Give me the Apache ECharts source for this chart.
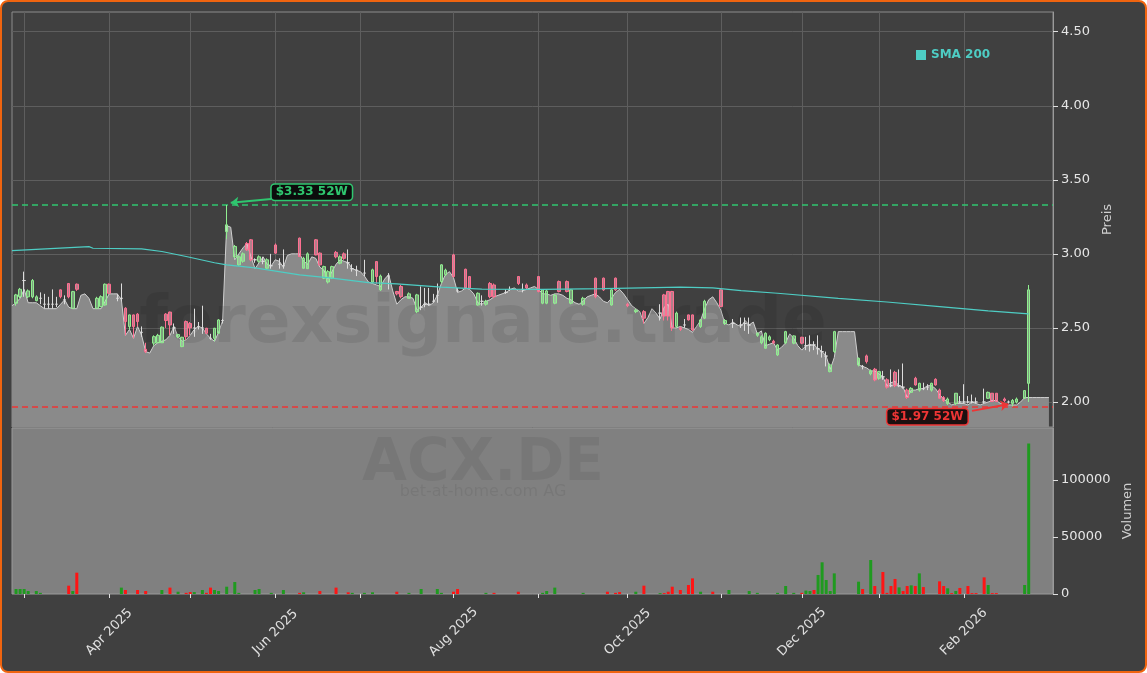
<!DOCTYPE html>
<html><head><meta charset="utf-8">
<script src="https://cdn.jsdelivr.net/npm/echarts@6/dist/echarts.min.js"></script>
<style>
html,body{margin:0;padding:0;background:#ffffff;}
#frame{position:absolute;left:0;top:0;width:1147px;height:673px;box-sizing:border-box;border:2px solid #f0640f;border-radius:8px;background:#404040;}
#chart{position:absolute;left:0;top:0;width:1147px;height:673px;}
</style></head><body>
<div id="frame"></div><div id="chart"></div>
<script>
// ---------------- DATA ----------------
const startDate = '2025-02-26';
const holidays = ['2025-04-18','2025-04-21','2025-05-01','2025-12-24','2025-12-25','2025-12-26','2025-12-31','2026-01-01'];
const categoryCount = 258;          // trading days Feb 26 2025 .. Mar 4 2026
const lastTradeIdx = 250;           // index of last candle (2026-02-24)
const monthNames = ['Jan','Feb','Mar','Apr','May','Jun','Jul','Aug','Sep','Oct','Nov','Dec'];

// filled price line, from index -1 to 255
const areaPrice = [2.65,
2.67,2.70,2.76,2.67,2.67,2.67,2.65,2.63,2.63,2.63,
2.63,2.66,2.69,2.64,2.63,2.63,2.72,2.73,2.70,2.63,
2.63,2.63,2.68,2.73,2.73,2.73,2.69,2.45,2.49,2.43,
2.51,2.45,2.34,2.33,2.38,2.40,2.41,2.42,2.45,2.51,
2.44,2.41,2.42,2.45,2.49,2.51,2.50,2.46,2.43,2.41,
2.47,2.55,3.19,3.18,2.96,3.00,3.04,3.07,2.98,2.90,
2.94,2.98,2.93,2.92,2.96,2.95,2.91,2.99,3.00,3.00,
3.00,2.95,2.93,2.98,2.97,2.91,2.89,2.83,2.88,2.93,
2.96,2.95,2.94,2.90,2.89,2.88,2.85,2.81,2.80,2.79,
2.78,2.83,2.86,2.75,2.66,2.69,2.71,2.71,2.70,2.62,
2.64,2.67,2.65,2.67,2.72,2.80,2.86,2.88,2.84,2.74,
2.75,2.77,2.76,2.73,2.67,2.66,2.68,2.69,2.71,2.72,
2.73,2.74,2.76,2.77,2.75,2.75,2.76,2.77,2.78,2.76,
2.73,2.73,2.72,2.73,2.73,2.72,2.70,2.69,2.67,2.66,
2.68,2.71,2.72,2.73,2.71,2.68,2.67,2.70,2.74,2.76,
2.73,2.69,2.65,2.63,2.61,2.53,2.57,2.63,2.60,2.56,
2.64,2.66,2.50,2.50,2.51,2.50,2.49,2.47,2.51,2.55,
2.63,2.69,2.71,2.67,2.62,2.53,2.52,2.54,2.52,2.51,
2.55,2.52,2.54,2.46,2.48,2.38,2.39,2.40,2.35,2.37,
2.40,2.46,2.43,2.38,2.35,2.38,2.385,2.385,2.36,2.34,
2.31,2.22,2.30,2.475,2.475,2.475,2.475,2.475,2.25,2.24,
2.23,2.21,2.21,2.19,2.17,2.11,2.13,2.14,2.11,2.10,
2.03,2.08,2.08,2.09,2.09,2.11,2.11,2.09,2.05,2.02,
2.00,1.98,1.99,1.99,1.99,1.98,2.00,1.99,1.98,1.99,
2.00,2.01,2.01,1.99,1.99,1.98,1.98,1.98,2.00,2.03,
2.03,2.03,2.03,2.03,2.03,2.03];

// candles: [tradingDayIndex, open, close, low, high]
const candles = [
[0,2.667,2.723,2.65,2.73],[1,2.711,2.761,2.70,2.77],[2,2.82,2.82,2.71,2.88],[3,2.71,2.75,2.70,2.76],
[4,2.71,2.82,2.70,2.83],[5,2.684,2.71,2.68,2.72],[6,2.70,2.70,2.66,2.74],[7,2.66,2.66,2.63,2.73],
[8,2.66,2.66,2.63,2.71],[9,2.66,2.66,2.63,2.76],[10,2.66,2.66,2.64,2.71],[11,2.757,2.711,2.70,2.76],
[12,2.69,2.69,2.66,2.72],[13,2.80,2.71,2.70,2.80],[14,2.633,2.745,2.63,2.75],[15,2.795,2.761,2.75,2.80],
[20,2.633,2.70,2.63,2.71],[21,2.644,2.711,2.64,2.72],[22,2.655,2.795,2.65,2.80],[23,2.795,2.734,2.73,2.80],
[25,2.70,2.70,2.68,2.73],[26,2.70,2.70,2.68,2.80],[27,2.633,2.543,2.45,2.64],[28,2.509,2.588,2.49,2.59],
[29,2.588,2.509,2.43,2.59],[30,2.593,2.543,2.51,2.60],[31,2.47,2.47,2.44,2.51],[32,2.356,2.34,2.33,2.40],
[34,2.397,2.441,2.38,2.45],[35,2.40,2.45,2.40,2.46],[36,2.40,2.505,2.40,2.51],[37,2.593,2.55,2.50,2.60],
[38,2.607,2.52,2.45,2.61],[39,2.50,2.50,2.46,2.53],[40,2.44,2.455,2.43,2.46],[41,2.374,2.437,2.37,2.44],
[42,2.543,2.441,2.42,2.55],[43,2.53,2.50,2.45,2.54],[44,2.50,2.50,2.44,2.63],[45,2.51,2.51,2.49,2.54],
[46,2.50,2.50,2.46,2.65],[47,2.498,2.464,2.46,2.50],[48,2.43,2.43,2.42,2.46],[49,2.43,2.498,2.41,2.50],
[50,2.464,2.554,2.46,2.56],[51,2.55,2.55,2.53,2.56],[52,3.15,3.196,3.10,3.33],[54,2.98,3.05,2.97,3.06],
[55,2.926,2.98,2.92,2.99],[56,2.95,3.00,2.94,3.01],[57,3.07,3.027,3.02,3.08],[58,3.095,2.96,2.95,3.10],
[59,2.96,2.96,2.94,2.97],[60,2.95,2.98,2.94,2.99],[61,2.95,2.95,2.93,2.98],[62,2.903,2.96,2.90,2.97],
[63,2.92,2.92,2.90,3.00],[64,3.06,3.005,3.00,3.07],[65,2.93,2.93,2.90,2.97],[66,2.92,2.92,2.90,3.03],
[70,3.106,2.982,2.98,3.11],[71,2.903,2.97,2.90,2.98],[72,2.90,3.00,2.90,3.01],[74,3.095,2.993,2.99,3.10],
[75,3.005,2.926,2.92,3.01],[76,2.836,2.914,2.83,2.92],[77,2.81,2.88,2.80,2.89],[78,2.836,2.914,2.83,2.92],
[79,3.01,2.98,2.97,3.02],[80,2.937,2.98,2.93,2.99],[81,3.00,2.97,2.96,3.01],[82,2.94,2.94,2.90,3.03],
[83,2.90,2.90,2.88,2.93],[84,2.89,2.89,2.85,2.92],[86,2.87,2.87,2.85,2.96],[88,2.81,2.892,2.80,2.90],
[89,2.948,2.847,2.80,2.95],[90,2.757,2.85,2.75,2.86],[92,2.85,2.85,2.76,2.87],[94,2.746,2.73,2.72,2.75],
[95,2.78,2.711,2.70,2.79],[97,2.70,2.73,2.70,2.74],[99,2.61,2.723,2.60,2.73],[100,2.64,2.64,2.62,2.78],
[101,2.66,2.66,2.64,2.77],[102,2.66,2.66,2.65,2.77],[103,2.68,2.68,2.67,2.73],[104,2.72,2.72,2.67,2.80],
[105,2.813,2.926,2.80,2.93],[106,2.86,2.89,2.85,2.90],[108,2.993,2.847,2.84,3.00],[109,2.75,2.75,2.74,2.77],
[111,2.896,2.768,2.76,2.90],[112,2.847,2.768,2.76,2.85],[114,2.655,2.734,2.65,2.74],[115,2.68,2.68,2.65,2.72],
[116,2.66,2.68,2.65,2.69],[117,2.80,2.711,2.70,2.81],[118,2.79,2.711,2.70,2.80],[121,2.74,2.74,2.73,2.76],
[122,2.76,2.76,2.75,2.78],[124,2.847,2.80,2.79,2.85],[125,2.76,2.76,2.74,2.80],[126,2.79,2.77,2.76,2.80],
[129,2.847,2.746,2.74,2.85],[130,2.667,2.757,2.66,2.76],[131,2.667,2.75,2.66,2.76],[133,2.667,2.72,2.66,2.73],
[134,2.813,2.746,2.74,2.82],[136,2.813,2.746,2.74,2.82],[137,2.667,2.757,2.66,2.76],[140,2.66,2.70,2.65,2.71],
[143,2.836,2.711,2.70,2.84],[145,2.836,2.757,2.75,2.84],[147,2.655,2.757,2.65,2.76],[148,2.836,2.757,2.75,2.84],
[151,2.66,2.65,2.64,2.67],[153,2.61,2.62,2.60,2.63],[155,2.61,2.566,2.53,2.62],[159,2.60,2.60,2.55,2.66],
[160,2.723,2.58,2.55,2.73],[161,2.746,2.58,2.55,2.75],[162,2.746,2.50,2.48,2.75],[163,2.51,2.60,2.50,2.61],
[164,2.50,2.49,2.48,2.51],[165,2.52,2.52,2.50,2.56],[166,2.588,2.554,2.55,2.59],[167,2.588,2.486,2.48,2.59],
[169,2.509,2.554,2.50,2.56],[170,2.566,2.68,2.56,2.69],[174,2.757,2.644,2.64,2.76],[175,2.53,2.55,2.52,2.56],
[177,2.53,2.53,2.50,2.56],[179,2.52,2.52,2.50,2.57],[180,2.53,2.53,2.48,2.57],[181,2.52,2.52,2.46,2.57],
[183,2.45,2.464,2.44,2.47],[184,2.40,2.44,2.39,2.45],[185,2.363,2.464,2.36,2.47],[186,2.42,2.44,2.41,2.45],
[187,2.41,2.40,2.39,2.42],[188,2.318,2.385,2.31,2.39],[190,2.40,2.475,2.39,2.48],[192,2.397,2.446,2.39,2.45],
[194,2.437,2.397,2.39,2.44],[195,2.38,2.38,2.35,2.44],[196,2.385,2.385,2.34,2.45],[197,2.385,2.385,2.35,2.41],
[198,2.36,2.36,2.32,2.45],[199,2.34,2.34,2.30,2.38],[200,2.31,2.31,2.24,2.34],[201,2.205,2.25,2.20,2.26],
[202,2.34,2.475,2.33,2.48],[208,2.25,2.295,2.24,2.30],[209,2.24,2.24,2.22,2.25],[210,2.311,2.273,2.26,2.32],
[211,2.19,2.21,2.18,2.22],[212,2.221,2.149,2.14,2.23],[213,2.16,2.205,2.15,2.21],[214,2.17,2.17,2.15,2.21],
[215,2.15,2.10,2.09,2.16],[216,2.11,2.11,2.10,2.22],[217,2.20,2.11,2.10,2.21],[218,2.11,2.11,2.10,2.22],
[219,2.10,2.10,2.09,2.26],[220,2.08,2.03,2.02,2.09],[221,2.065,2.092,2.06,2.10],[222,2.16,2.115,2.11,2.17],
[223,2.08,2.126,2.07,2.13],[224,2.09,2.09,2.08,2.13],[225,2.10,2.10,2.08,2.12],[226,2.08,2.126,2.07,2.13],
[227,2.153,2.115,2.11,2.16],[228,2.081,2.025,2.02,2.09],[229,2.03,2.01,2.00,2.04],[230,1.99,2.02,1.98,2.03],
[232,1.99,2.059,1.98,2.06],[233,2.00,2.00,1.99,2.04],[234,2.00,2.00,1.99,2.12],[235,2.00,2.00,1.99,2.04],
[236,2.00,2.00,1.99,2.05],[237,2.00,2.00,1.99,2.03],[239,2.00,2.00,1.99,2.09],[240,2.025,2.065,2.02,2.07],
[241,2.059,2.003,2.00,2.06],[242,2.059,2.003,2.00,2.06],[244,2.02,2.01,2.00,2.03],[245,2.00,2.00,1.99,2.01],
[246,1.99,2.01,1.97,2.02],[247,2.00,2.02,1.99,2.03],[249,2.025,2.077,2.02,2.08],[250,2.126,2.757,2.00,2.79]
];

// SMA 200 readings: [tradingDayIndex, value]
const smaPoints = [[-1,3.022],[18,3.049],[19,3.038],[31,3.034],[36,3.016],[42,2.982],[49,2.94],[52,2.926],
[59,2.905],[70,2.858],[78,2.836],[87,2.806],[94,2.797],[105,2.775],[115,2.762],[130,2.760],[145,2.765],
[164,2.775],[172,2.770],[179,2.752],[188,2.734],[203,2.70],[215,2.675],[228,2.644],[240,2.615],[250,2.595]];

// volume: [tradingDayIndex, shares]
const volumeUp = [[0,4400],[1,4400],[2,4400],[3,2600],[5,2600],[6,1000],[14,2600],[26,5600],[36,3500],[40,2000],
[44,1700],[46,3500],[49,3500],[50,2600],[52,6400],[54,10500],[55,1000],[59,3500],[60,4400],[63,1000],[66,3500],
[71,1500],[83,1000],[86,1000],[88,1500],[97,1000],[100,4400],[104,4400],[105,1000],[116,1000],[130,1000],
[131,2600],[133,5600],[140,1000],[153,2000],[159,800],[169,2000],[176,3500],[181,2600],[183,1000],[188,1000],
[190,7000],[192,1000],[195,3000],[196,2600],[198,16700],[199,27800],[200,12300],[201,2600],[202,18100],
[208,10800],[211,29800],[218,5800],[221,7600],[223,18100],[230,5000],[232,2600],[240,7900],[249,7900],[250,132000]];
const volumeDown = [[13,7300],[15,18700],[27,3500],[30,3500],[32,2600],[38,5600],[42,1000],[43,1700],[47,1000],
[48,5600],[70,1000],[75,2600],[79,5600],[82,1500],[94,2000],[108,2000],[109,4400],[118,1000],[124,2000],[146,2000],
[148,1000],[149,1700],[155,7300],[160,800],[161,2000],[162,6400],[164,3500],[166,7900],[167,13700],[172,2000],
[194,1000],[197,3500],[209,4400],[212,7000],[214,19300],[215,1000],[216,7000],[217,13200],[219,2600],[220,7000],
[222,7000],[224,6100],[228,11100],[229,7000],[231,800],[233,5300],[235,7000],[236,800],[237,800],[239,14600],
[241,800],[242,800]];

const high52 = 3.33, high52Idx = 53;
const low52 = 1.97, low52Idx = 245;
const priceTicks = [2.0, 2.5, 3.0, 3.5, 4.0, 4.5];
const volumeTicks = [0, 50000, 100000];
const priceMin = 1.8311, priceMax = 4.633, volumeMax = 145600;

// ---------------- BUILD ----------------
function tradingDays(start, count, skip) {
  const out = [];
  const d = new Date(start + 'T00:00:00Z');
  while (out.length < count) {
    const wd = d.getUTCDay();
    const s = d.toISOString().slice(0, 10);
    if (wd !== 0 && wd !== 6 && skip.indexOf(s) < 0) out.push(s);
    d.setUTCDate(d.getUTCDate() + 1);
  }
  return out;
}
const cats = tradingDays(startDate, categoryCount, holidays);
const K = i => i + 1; // trading-day index -> category position
const monthStarts = new Set();
for (let k = 1; k <= K(lastTradeIdx); k++) {
  if (cats[k].slice(0, 7) !== cats[k - 1].slice(0, 7)) monthStarts.add(k);
}
const isMonthStart = (idx) => monthStarts.has(idx);
const isLabelMonth = (idx) => monthStarts.has(idx) && (parseInt(cats[idx].slice(5, 7), 10) % 2 === 0);

const candleData = cats.map(() => ['-', '-', '-', '-']);
candles.forEach(r => { candleData[K(r[0])] = [r[1], r[2], r[3], r[4]]; });
const smaData = cats.map(() => null);
smaPoints.forEach(p => { smaData[K(p[0])] = p[1]; });
const areaData = cats.map((c, k) => (k < areaPrice.length ? areaPrice[k] : null));
const volUpData = cats.map(() => '-');
volumeUp.forEach(p => { volUpData[K(p[0])] = p[1]; });
const volDownData = cats.map(() => '-');
volumeDown.forEach(p => { volDownData[K(p[0])] = p[1]; });

const FONT = 'DejaVu Sans';
const GREEN = '#2fc66f', RED = '#ee3535';

const chart = echarts.init(document.getElementById('chart'), null, { renderer: 'canvas' });
chart.setOption({
  animation: false,
  backgroundColor: 'transparent',
  textStyle: { fontFamily: FONT },
  legend: {
    data: ['SMA 200'], left: 911, top: 44, icon: 'rect', itemWidth: 10, itemHeight: 10, itemGap: 5,
    textStyle: { color: '#4ecdc4', fontWeight: 'bold', fontSize: 12, fontFamily: FONT }
  },
  grid: [
    { left: 12, top: 12, width: 1041, height: 415, show: true, backgroundColor: 'transparent', borderColor: '#8c8c8c', borderWidth: 1 },
    { left: 12, top: 428, width: 1041, height: 166, show: true, backgroundColor: '#808080', borderColor: '#9a9a9a', borderWidth: 1 }
  ],
  xAxis: [
    { type: 'category', gridIndex: 0, data: cats, boundaryGap: false,
      axisLine: { show: false }, axisTick: { show: false }, axisLabel: { show: false },
      splitLine: { show: true, interval: isMonthStart, lineStyle: { color: '#5e5e5e', width: 1 } } },
    { type: 'category', gridIndex: 1, data: cats, boundaryGap: false,
      axisLine: { show: false },
      axisTick: { show: true, interval: isMonthStart, length: 4, lineStyle: { color: '#e0e0e0' } },
      axisLabel: { show: true, interval: isLabelMonth, rotate: 45, align: 'center', verticalAlign: 'middle', margin: 38,
        color: '#e0e0e0', fontSize: 13, fontFamily: FONT,
        formatter: v => monthNames[parseInt(v.slice(5, 7), 10) - 1] + ' ' + v.slice(0, 4) },
      splitLine: { show: false } }
  ],
  yAxis: [
    { type: 'value', gridIndex: 0, position: 'right', min: priceMin, max: priceMax, scale: true,
      axisLine: { show: true, lineStyle: { color: '#9a9a9a' } },
      axisTick: { show: true, length: 5, customValues: priceTicks, lineStyle: { color: '#e0e0e0' } },
      axisLabel: { customValues: priceTicks, color: '#e6e6e6', fontSize: 13, margin: 8, formatter: v => v.toFixed(2) },
      splitLine: { show: true, lineStyle: { color: '#5e5e5e', width: 1 } },
      name: 'Preis', nameLocation: 'middle', nameRotate: 90, nameGap: 47,
      nameTextStyle: { color: '#d0d0d0', fontSize: 13, fontFamily: FONT } },
    { type: 'value', gridIndex: 1, position: 'right', min: 0, max: volumeMax,
      axisLine: { show: true, lineStyle: { color: '#9a9a9a' } },
      axisTick: { show: true, length: 5, customValues: volumeTicks, lineStyle: { color: '#e0e0e0' } },
      axisLabel: { customValues: volumeTicks, color: '#e6e6e6', fontSize: 13, margin: 8, formatter: v => String(v) },
      splitLine: { show: false },
      name: 'Volumen', nameLocation: 'middle', nameRotate: 90, nameGap: 68,
      nameTextStyle: { color: '#d0d0d0', fontSize: 13, fontFamily: FONT } }
  ],
  graphic: [
    { type: 'text', z: 3, style: { text: 'forexsignale.trade', x: 483, y: 325, align: 'center', verticalAlign: 'middle',
        font: 'bold 66px "DejaVu Sans"', fill: 'rgba(0,0,0,0.085)' } },
    { type: 'text', z: 3, style: { text: 'ACX.DE', x: 483, y: 465, align: 'center', verticalAlign: 'middle',
        font: 'bold 58px "DejaVu Sans"', fill: 'rgba(0,0,0,0.07)' } },
    { type: 'text', z: 3, style: { text: 'bet-at-home.com AG', x: 483, y: 492, align: 'center', verticalAlign: 'middle',
        font: '16px "DejaVu Sans"', fill: 'rgba(0,0,0,0.07)' } }
  ],
  series: [
    { name: 'Kurs', type: 'line', xAxisIndex: 0, yAxisIndex: 0, data: areaData, showSymbol: false, symbol: 'none',
      z: 2, lineStyle: { color: '#cfcfcf', width: 1 }, areaStyle: { color: '#8a8a8a', opacity: 1, origin: 'start' } },
    { name: 'Candles', type: 'candlestick', xAxisIndex: 0, yAxisIndex: 0, data: candleData, barWidth: 3, z: 5,
      itemStyle: { color: 'rgba(175,235,175,0.55)', color0: 'rgba(255,170,190,0.6)', borderColor: '#90ee90',
        borderColor0: '#ff6f91', borderColorDoji: '#dcdcdc', borderWidth: 1 },
      markLine: { silent: true, symbol: ['none', 'none'], animation: false,
        data: [
          { yAxis: high52, lineStyle: { color: GREEN, type: [6, 4], width: 1.5 }, label: { show: false } },
          { yAxis: low52, lineStyle: { color: RED, type: [6, 4], width: 1.5 }, label: { show: false } }
        ] },
      markPoint: { silent: true, symbol: 'rect', symbolSize: 1, itemStyle: { color: 'rgba(0,0,0,0)' },
        data: [
          { coord: [cats[K(73)], 3.416], label: { show: true, position: 'inside', formatter: '$' + high52.toFixed(2) + ' 52W',
              color: GREEN, fontWeight: 'bold', fontSize: 12, fontFamily: FONT, backgroundColor: '#0c0c0c',
              borderColor: GREEN, borderWidth: 1.5, borderRadius: 3, padding: [2, 4, 1, 4] } },
          { coord: [cats[K(225)], 1.90], label: { show: true, position: 'inside', formatter: '$' + low52.toFixed(2) + ' 52W',
              color: RED, fontWeight: 'bold', fontSize: 12, fontFamily: FONT, backgroundColor: '#1c1010',
              borderColor: RED, borderWidth: 1.5, borderRadius: 3, padding: [2, 4, 1, 4] } }
        ] } },
    { name: 'SMA 200', type: 'line', xAxisIndex: 0, yAxisIndex: 0, data: smaData, connectNulls: true, showSymbol: false,
      symbol: 'none', z: 6, color: '#4ecdc4', lineStyle: { color: '#4ecdc4', width: 1.2 },
      markLine: { silent: true, symbol: ['none', 'arrow'], symbolSize: 8, animation: false,
        data: [
          [{ coord: [cats[K(63)], 3.37], lineStyle: { color: GREEN, width: 2, type: 'solid' }, label: { show: false } },
           { coord: [cats[K(high52Idx)], 3.345] }],
          [{ coord: [cats[K(236)], 1.94], lineStyle: { color: RED, width: 2, type: 'solid' }, label: { show: false } },
           { coord: [cats[K(low52Idx)], 1.985] }]
        ] } },
    { name: 'VolUp', type: 'bar', xAxisIndex: 1, yAxisIndex: 1, data: volUpData, barWidth: 3, barGap: '-100%',
      itemStyle: { color: '#1f9a1f' }, z: 4 },
    { name: 'VolDown', type: 'bar', xAxisIndex: 1, yAxisIndex: 1, data: volDownData, barWidth: 3, barGap: '-100%',
      itemStyle: { color: '#ff1414' }, z: 4 }
  ]
});
</script></body></html>
